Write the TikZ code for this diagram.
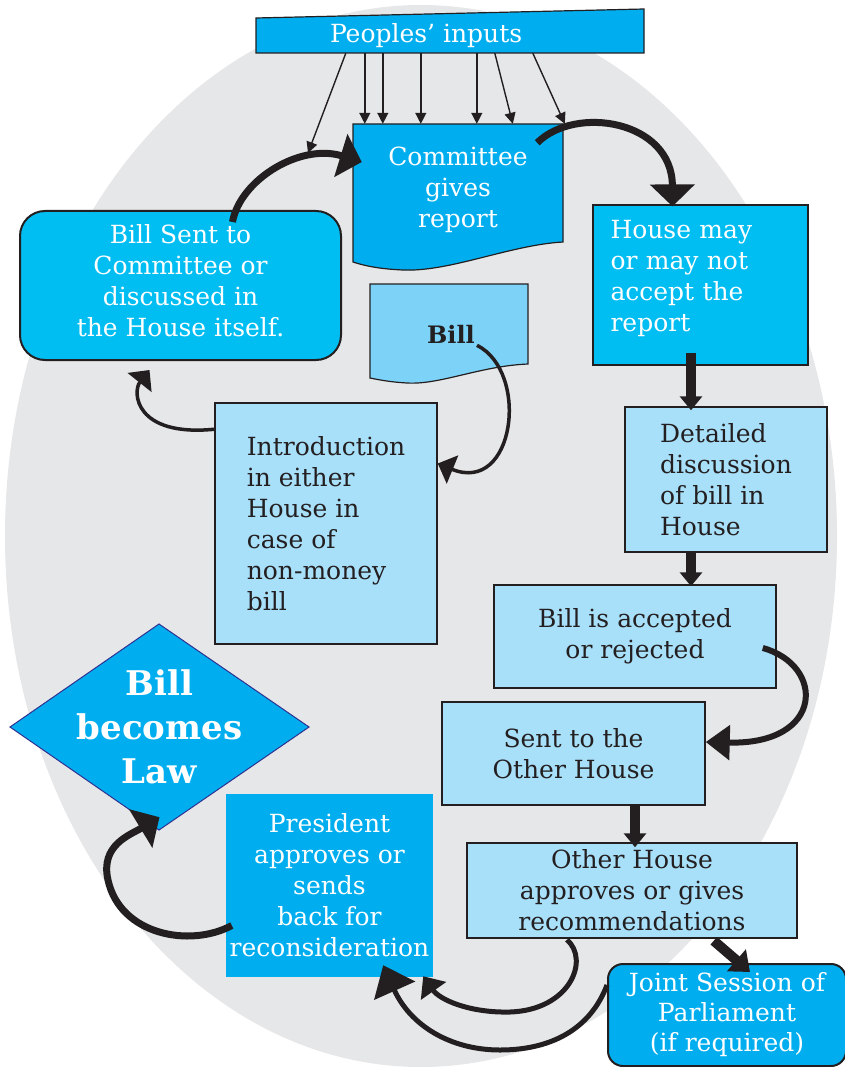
\documentclass[tikz,border=0pt]{standalone}
\usepackage{fontspec}
\setmainfont{DejaVu Serif}
\usetikzlibrary{arrows.meta}
\definecolor{ink}{HTML}{231F20}
\definecolor{cyanA}{HTML}{00AEEF}
\definecolor{cyanB}{HTML}{00BDF2}
\definecolor{paleblue}{HTML}{A8DFF9}
\definecolor{billblue}{HTML}{7DD3F7}
\definecolor{backgrey}{HTML}{E6E7E8}
\definecolor{lawedge}{HTML}{2E3192}
\begin{document}
\begin{tikzpicture}[x=1pt, y=-1pt,
    txt/.style={font=\fontsize{25}{31}\selectfont, align=center, inner sep=2pt},
    box/.style={txt, draw=ink, line width=1.5pt},
    thin arrow/.style={draw=ink, line width=1.4pt, -{Triangle[length=11pt,width=11pt]}},
    mid arrow/.style={draw=ink, line width=3.5pt, -{Triangle[length=16pt,width=30pt]}},
    curve arrow/.style={draw=ink, line width=6pt, -{Triangle[length=24pt,width=34pt]}},
    big arrow/.style={draw=ink, line width=7pt, -{Triangle[length=22pt,width=44pt]}},
    block arrow/.style={draw=ink, line width=10pt, -{Triangle[length=14pt,width=22pt]}}]
      \useasboundingbox (0,0) rectangle (844,1067);
      \fill[backgrey] (421,536) ellipse [x radius=416, y radius=531];

      \draw[fill=cyanA, draw=ink, line width=1.2pt] (256,18) -- (644,9) -- (644,53) -- (256,53) -- cycle;
      \node[txt, text=white, minimum width=388pt, minimum height=35pt] (ppl) at (450,35.5) {\makebox[240pt][l]{Peoples' inputs}};

      \draw[fill=cyanA, draw=ink, line width=1.2pt] (353,124) -- (563,124) -- (563,242) .. controls (510,245) and (450,272) .. (403,270) .. controls (380,269) and (365,266) .. (353,262) -- cycle;
      \node[txt, text=white, minimum width=210pt, minimum height=132pt] (cmte) at (458,190) {Committee\\gives\\report};

      \coordinate (gap) at (308,153);
      \draw[thin arrow] ([xshift=90pt]ppl.south west) -- (gap);
      \foreach \s/\e in {109/12, 127/30, 165/68, 221/124, 239/160, 277/212}
        \draw[thin arrow] ([xshift=\s pt]ppl.south west) -- ([xshift=\e pt]cmte.north west);

      \node[box, fill=cyanB, text=white, align=left, text width=180pt, line width=1.2pt,
        minimum width=215pt, minimum height=160pt] (house) at (700.5,285) {House may\\or may not\\accept the\\report\\[-13pt]\mbox{}};
      \node[box, fill=cyanB, text=white, rounded corners=25pt, line width=2pt,
        minimum width=321pt, minimum height=149pt] (discuss) at (180.5,285.5) {Bill Sent to\\Committee or\\discussed in\\the House itself.\\[-21pt]\mbox{}};

      \draw[fill=billblue, draw=ink, line width=1.2pt] (370,284) -- (528,284) -- (528,364) .. controls (480,366) and (440,385) .. (407,383) .. controls (390,382) and (380,380) .. (370,378) -- cycle;
      \node[txt, text=ink, font=\fontsize{24}{31}\selectfont\bfseries] (bill) at (451,334) {Bill};

      \node[box, fill=paleblue, text=ink, align=left, minimum width=222pt, minimum height=241pt] (intro) at (326,523.5) {Introduction\\in either\\House in\\case of\\non-money\\bill};

      \draw[mid arrow] (bill.south east) .. controls (530,372) and (515,495) .. ([yshift=60pt]intro.east);
      \draw[mid arrow] ([yshift=-27pt]intro.north west) .. controls (135,437) and (132,392) .. ([xshift=-31pt,yshift=-9pt]discuss.south);
      \draw[big arrow] ([xshift=52pt,yshift=-12pt]discuss.north) .. controls (240,180) and (300,143) .. ([xshift=9pt,yshift=28pt]cmte.west);
      \draw[big arrow] ([xshift=-26pt,yshift=-19pt]cmte.north east) .. controls (575,105) and (672,120) .. ([xshift=-28pt,yshift=-2pt]house.north);

      \node[box, fill=paleblue, text=ink, align=left, minimum width=202pt, minimum height=145pt] (detail) at (726,479.5) {Detailed\\discussion\\of bill in\\House};
      \draw[block arrow] ([xshift=-9.5pt,yshift=13pt]house.south) -- ([xshift=-35pt,yshift=-4pt]detail.north);

      \node[box, fill=paleblue, text=ink, minimum width=282pt, minimum height=103pt] (vote) at (635,636.5) {Bill is accepted\\or rejected};
      \draw[block arrow] ([xshift=-35pt]detail.south) -- ([xshift=56pt,yshift=-2pt]vote.north);

      \node[box, fill=paleblue, text=ink, minimum width=263pt, minimum height=103pt] (other) at (573.5,753.5) {Sent to the\\Other House};
      \draw[curve arrow] ([xshift=-14pt,yshift=-11.5pt]vote.east) .. controls (825,665) and (825,745) .. ([yshift=11.5pt]other.east);

      \node[box, fill=paleblue, text=ink, minimum width=330pt, minimum height=95pt] (approve) at (632,890.5) {Other House\\approves or gives\\recommendations};
      \draw[block arrow] ([xshift=61.5pt]other.south) -- ([xshift=3pt,yshift=-5pt]approve.north);

      \node[box, fill=cyanA, text=white, rounded corners=15pt, line width=2pt, font=\fontsize{25}{30}\selectfont,
        minimum width=238pt, minimum height=102pt] (joint) at (727,1015) {Joint Session of\\Parliament\\(if required)};
      \draw[block arrow, -{Triangle[length=18pt,width=28pt]}] ([xshift=-84pt,yshift=-2pt]approve.south east) -- ([xshift=23pt,yshift=-9pt]joint.north);

      \node[txt, fill=cyanA, text=white, minimum width=207pt, minimum height=183pt] (pres) at (329.5,885.5) {President\\approves or\\sends\\back for\\reconsideration};
      \draw[curve arrow, line width=5pt, -{Triangle[length=18pt,width=30pt]}] ([xshift=-65pt,yshift=-1pt]approve.south) .. controls (590,960) and (570,1010) .. (510,1012) .. controls (470,1013) and (440,1000) .. ([xshift=-10pt,yshift=1pt]pres.south east);
      \draw[curve arrow, line width=5pt, -{Triangle[length=28pt,width=44pt]}] ([yshift=30pt]joint.west) .. controls (590,1030) and (550,1050) .. (500,1050) .. controls (450,1050) and (410,1025) .. ([xshift=-50pt,yshift=12pt]pres.south east);

      \draw[fill=cyanA, draw=lawedge, line width=1pt] (10,727) -- (159,624) -- (309,727) -- (159,830) -- cycle;
      \node[txt, text=white, font=\fontsize{34}{44}\selectfont\bfseries, minimum width=299pt, minimum height=206pt] (law) at (159.5,727) {Bill\\becomes\\Law};
      \draw[big arrow] ([xshift=6pt,yshift=-40pt]pres.west) .. controls (190,948) and (120,935) .. (108,880) .. controls (100,845) and (130,835) .. ([yshift=13pt]law.south);
    \end{tikzpicture}
\end{document}
